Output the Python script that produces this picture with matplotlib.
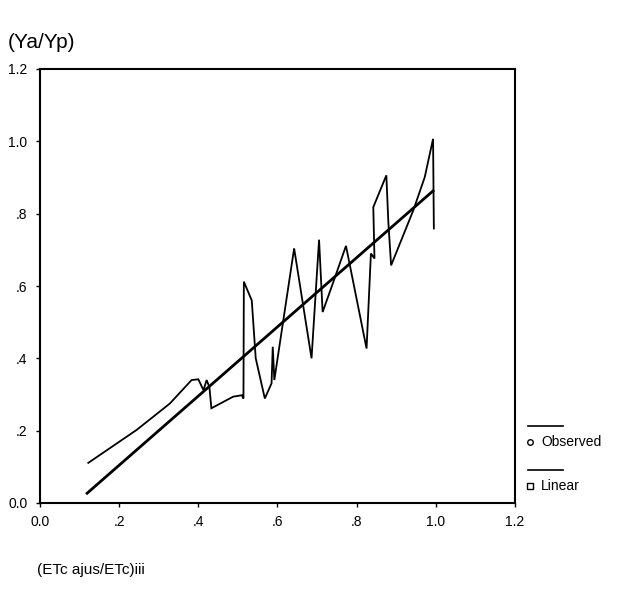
import matplotlib
matplotlib.use("Agg")
import matplotlib.pyplot as plt
from matplotlib.lines import Line2D

plt.rcParams['font.family'] = ['Liberation Sans', 'DejaVu Sans']

# Observed series (plotted in drawing order)
obs_x = [0.122, 0.244, 0.328, 0.383, 0.400, 0.413, 0.421, 0.428, 0.433, 0.488, 0.510, 0.514,
         0.515, 0.535, 0.545, 0.568, 0.585, 0.588, 0.592, 0.642, 0.686, 0.705, 0.714, 0.741,
         0.773, 0.825, 0.836, 0.845, 0.842, 0.875, 0.880, 0.887, 0.943, 0.972, 0.993, 0.995]
obs_y = [0.111, 0.202, 0.275, 0.340, 0.342, 0.312, 0.340, 0.320, 0.262, 0.294, 0.298, 0.289,
         0.612, 0.560, 0.400, 0.289, 0.331, 0.432, 0.340, 0.704, 0.400, 0.728, 0.528, 0.611,
         0.711, 0.427, 0.690, 0.676, 0.818, 0.906, 0.777, 0.657, 0.809, 0.901, 1.007, 0.759]

# Linear fit endpoints
lin_x = [0.119, 0.993]
lin_y = [0.027, 0.863]

ticks = [0.0, 0.2, 0.4, 0.6, 0.8, 1.0, 1.2]
tick_labels = ["0.0", ".2", ".4", ".6", ".8", "1.0", "1.2"]

fig = plt.figure(figsize=(6.21, 5.89), dpi=100)
ax = fig.add_axes([40/621, 1-503/589, 475/621, 434/589])

ax.plot(obs_x, obs_y, color='black', lw=1.3, solid_joinstyle='miter')
ax.plot(lin_x, lin_y, color='black', lw=2.0)

ax.set_xlim(0, 1.2)
ax.set_ylim(0, 1.2)
ax.set_xticks(ticks)
ax.set_xticklabels(tick_labels)
ax.set_yticks(ticks)
ax.set_yticklabels(tick_labels)
ax.tick_params(direction='out', length=3, width=1, labelsize=10, pad=6, colors='black')
for s in ax.spines.values():
    s.set_linewidth(1.5)
    s.set_color('black')

fig.text(8/621, 1-42/589, "(Ya/Yp)", fontsize=15, va='center', ha='left')
fig.text(37/621, 1-570/589, "(ETc ajus/ETc)iii", fontsize=11, va='center', ha='left')

# SPSS-style legend
for yl in (426, 470):
    fig.add_artist(Line2D([528/621, 563/621], [1-yl/589, 1-yl/589], color='black', lw=1.2,
                          transform=fig.transFigure))
fig.add_artist(Line2D([530/621], [1-442/589], marker='o', markersize=4, mfc='white',
                      mec='black', mew=1, transform=fig.transFigure))
fig.add_artist(Line2D([530/621], [1-486/589], marker='s', markersize=4, mfc='white',
                      mec='black', mew=1, transform=fig.transFigure))
fig.text(541/621, 1-442/589, "Observed", fontsize=10, va='center', ha='left')
fig.text(541/621, 1-486/589, "Linear", fontsize=10, va='center', ha='left')

fig.savefig("out.png", dpi=100)
